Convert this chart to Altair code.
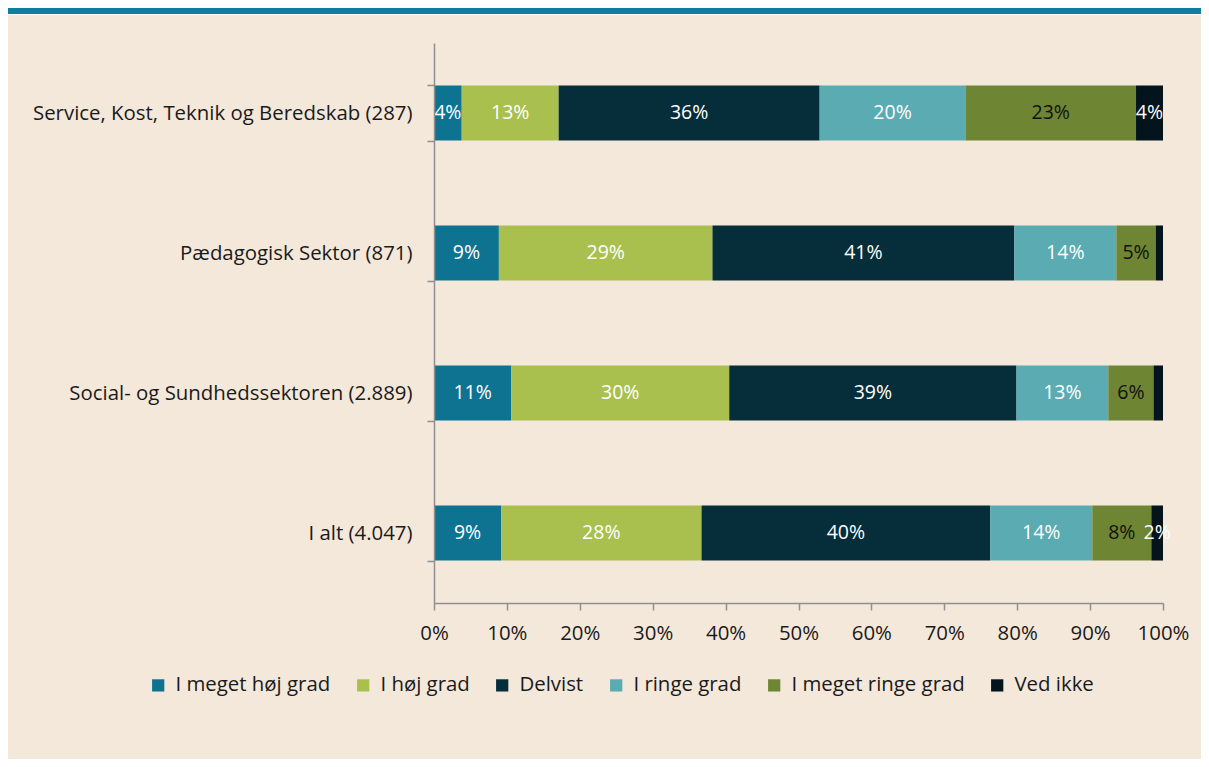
import altair as alt
import pandas as pd

sectors = [
    "Service, Kost, Teknik og Beredskab (287)",
    "Pædagogisk Sektor (871)",
    "Social- og Sundhedssektoren (2.889)",
    "I alt (4.047)",
]
categories = ["I meget høj grad", "I høj grad", "Delvist", "I ringe grad", "I meget ringe grad", "Ved ikke"]
colors = ["#0E7391", "#A9C04E", "#052D3A", "#5AABB2", "#6E8533", "#04141C"]

service_vals = [3.8, 13.3, 35.8, 20.0, 23.4, 3.7]
paed_vals = [8.9, 29.3, 41.4, 14.0, 5.4, 1.0]
social_vals = [10.6, 29.9, 39.4, 12.6, 6.2, 1.3]
total_vals = [9.2, 27.5, 39.6, 14.0, 8.1, 1.6]

all_vals = [service_vals, paed_vals, social_vals, total_vals]
rows = []
for s, vals in zip(sectors, all_vals):
    for i, (c, v) in enumerate(zip(categories, vals)):
        rows.append({"sector": s, "category": c, "order": i, "value": v})
df = pd.DataFrame(rows)

W, H = 729, 560
PL, PT, PR, PB = 426, 35, 38, 156
FONT = "Open Sans"
FS = 20.4
FSB = 19.5
TXT = "#1a1a1a"
GRAY = "#8f8f8f"

deco = pd.DataFrame({"k": [0]})
beige = alt.Chart(deco).mark_rect(color="#F4E8DB").encode(
    x=alt.value(-PL), x2=alt.value(W + PR), y=alt.value(-PT + 7), y2=alt.value(H + PB)
)
teal = alt.Chart(deco).mark_rect(color="#0F7E9A").encode(
    x=alt.value(-PL), x2=alt.value(W + PR), y=alt.value(-PT), y2=alt.value(-PT + 6)
)

base = alt.Chart(df).transform_stack(
    stack="value", groupby=["sector"], sort=[alt.SortField("order")], as_=["x0", "x1"]
).transform_calculate(mid="(datum.x0 + datum.x1) / 2")

y_enc = alt.Y(
    "sector:N",
    sort=sectors,
    scale=alt.Scale(paddingInner=0.607, paddingOuter=0.3035),
    axis=alt.Axis(
        title=None, tickBand="extent", domainColor=GRAY, tickColor=GRAY, tickSize=7,
        domainWidth=1.5, tickWidth=1.5,
        labelPadding=15, labelFontSize=FS, labelFont=FONT, labelColor=TXT, labelLimit=600,
        grid=False, zindex=2,
    ),
)

bars = base.mark_bar().encode(
    x=alt.X(
        "x0:Q",
        scale=alt.Scale(domain=[0, 100], nice=False),
        axis=alt.Axis(
            title=None, values=list(range(0, 101, 10)), labelExpr="datum.value + '%'",
            tickSize=7, labelPadding=13, labelFontSize=FS, labelFont=FONT, labelColor=TXT,
            domainColor=GRAY, tickColor=GRAY, domainWidth=1.5, tickWidth=1.5,
            grid=False, zindex=2, labelFlush=False, labelOverlap=False,
        ),
    ),
    x2="x1:Q",
    y=y_enc,
    color=alt.Color(
        "category:N",
        sort=categories,
        scale=alt.Scale(domain=categories, range=colors),
        legend=alt.Legend(
            title=None, orient="none", direction="horizontal", legendX=-286, legendY=632,
            symbolType="square", symbolSize=150, symbolStrokeWidth=0, labelFontSize=FS,
            labelFont=FONT, labelColor=TXT, columnPadding=22, labelOffset=7, zindex=2,
            labelLimit=400,
        ),
    ),
    order=alt.Order("order:Q"),
)

labels = base.transform_filter("datum.value >= 1.5").mark_text(
    fontSize=FSB, font=FONT
).encode(
    x="mid:Q",
    y=alt.Y("sector:N", sort=sectors),
    text=alt.Text("label:N"),
    color=alt.condition(
        alt.datum.category == "I meget ringe grad", alt.value("#111111"), alt.value("white")
    ),
).transform_calculate(label="format(datum.value, '.0f') + '%'")

chart = alt.layer(beige, teal, bars, labels).properties(
    width=W, height=H,
    autosize=alt.AutoSizeParams(type="none"),
    padding={"left": PL, "top": PT, "right": PR, "bottom": PB},
    background="white",
).configure_view(stroke=None)

chart.save("out.html", embed_options={"renderer": "svg", "actions": False})
